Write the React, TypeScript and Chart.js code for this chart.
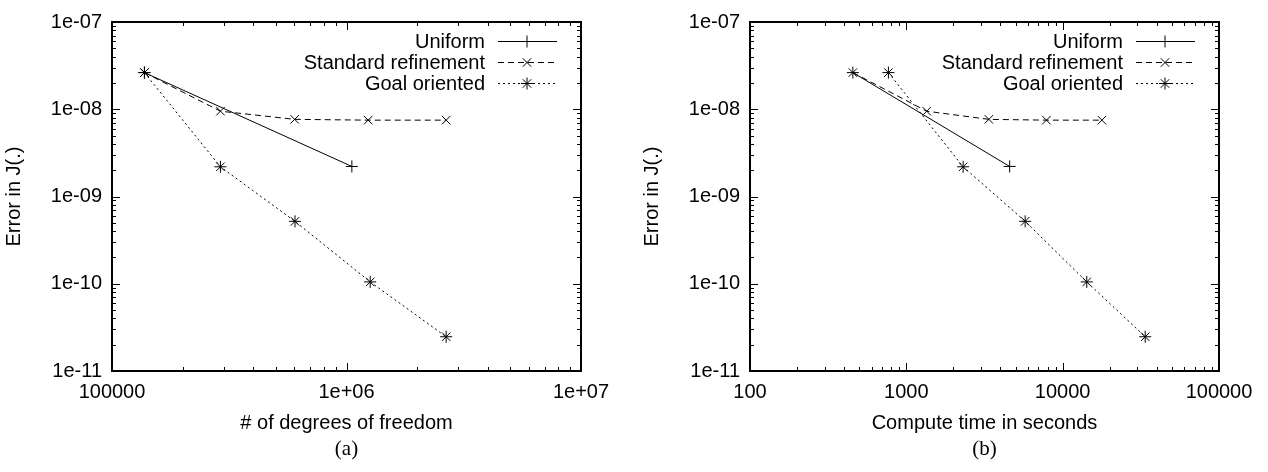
import React, { useEffect, useRef } from 'react';
import { Chart, registerables } from 'chart.js';
import { drawPoint } from 'chart.js/helpers';

Chart.register(...registerables);

// ---- data ----
const seriesNames = ['Uniform', 'Standard refinement', 'Goal oriented'];

const errUniform = [2.63e-8, 2.21e-9];
const errStandard = [2.63e-8, 9.5e-9, 7.66e-9, 7.5e-9, 7.5e-9];
const errGoal = [2.63e-8, 2.19e-9, 5.19e-10, 1.05e-10, 2.47e-11];

const dofUniform = [137500, 1054000];
const dofStandard = [137500, 290000, 601000, 1237000, 2660000];
const dofGoal = [137500, 290000, 603000, 1262000, 2660000];

const timeUniform = [455, 4580];
const timeStandard = [455, 1350, 3373, 7870, 17820];
const timeGoal = [768, 2309, 5755, 14260, 33740];

const yTickValues = [1e-11, 1e-10, 1e-9, 1e-8, 1e-7];
const yTickLabels = ['1e-11', '1e-10', '1e-09', '1e-08', '1e-07'];
const dofTickValues = [1e5, 1e6, 1e7];
const dofTickLabels = ['100000', '1e+06', '1e+07'];
const timeTickValues = [100, 1000, 10000, 100000];
const timeTickLabels = ['100', '1000', '10000', '100000'];

const yTitle = 'Error in J(.)';
const dofTitle = '# of degrees of freedom';
const timeTitle = 'Compute time in seconds';

// ---- layout constants ----
const CW = 630;
const CH = 440;
const FONT = "'Liberation Sans', Arial, Helvetica, sans-serif";

function logMinorValues(min: number, max: number): number[] {
  const out: number[] = [];
  for (let d = min; d < max * 0.999; d *= 10) {
    for (let k = 2; k <= 9; k++) out.push(k * d);
  }
  return out;
}

const gnuplotPlugin = {
  id: 'gnuplotFrame',
  afterDraw(chart: any) {
    const { ctx, chartArea } = chart;
    const { left, right, top, bottom } = chartArea;
    const xs = chart.scales.x;
    const ys = chart.scales.y;
    ctx.save();
    ctx.strokeStyle = '#000';
    ctx.lineWidth = 1;
    ctx.setLineDash([]);
    const MAJ = 8;
    const MIN = 4;
    const xMajor = xs.ticks.map((t: any) => t.value);
    const yMajor = ys.ticks.map((t: any) => t.value);
    const drawX = (v: number, len: number) => {
      const p = Math.round(xs.getPixelForValue(v)) + 0.5;
      ctx.beginPath();
      ctx.moveTo(p, bottom);
      ctx.lineTo(p, bottom - len);
      ctx.moveTo(p, top);
      ctx.lineTo(p, top + len);
      ctx.stroke();
    };
    const drawY = (v: number, len: number) => {
      const p = Math.round(ys.getPixelForValue(v)) + 0.5;
      ctx.beginPath();
      ctx.moveTo(left, p);
      ctx.lineTo(left + len, p);
      ctx.moveTo(right, p);
      ctx.lineTo(right - len, p);
      ctx.stroke();
    };
    xMajor.forEach((v: number) => drawX(v, MAJ));
    logMinorValues(xs.min, xs.max).forEach((v) => drawX(v, MIN));
    yMajor.forEach((v: number) => drawY(v, MAJ));
    logMinorValues(ys.min, ys.max).forEach((v) => drawY(v, MIN));

    // frame
    ctx.lineWidth = 2;
    ctx.strokeRect(left, top, right - left, bottom - top);

    // legend (gnuplot style: text right, sample on the right)
    ctx.font = `20px ${FONT}`;
    ctx.fillStyle = '#000';
    ctx.textAlign = 'right';
    ctx.textBaseline = 'middle';
    chart.data.datasets.forEach((ds: any, i: number) => {
      const y = Math.round(top + 18.5 + i * 21) + 0.5;
      ctx.fillText(ds.label, right - 96, y + 1);
      ctx.lineWidth = 1;
      ctx.setLineDash(ds.borderDash || []);
      ctx.beginPath();
      ctx.moveTo(right - 83, y);
      ctx.lineTo(right - 24, y);
      ctx.stroke();
      ctx.setLineDash([]);
      drawPoint(
        ctx,
        { pointStyle: ds.pointStyle, radius: ds.pointRadius, borderWidth: 1, rotation: 0 },
        right - 54,
        y
      );
    });
    ctx.restore();
  },
};

function makeConfig(
  xU: number[],
  xS: number[],
  xG: number[],
  xMin: number,
  xMax: number,
  xTickValues: number[],
  xTickLabels: string[],
  xTitle: string
): any {
  const mk = (xv: number[], yv: number[]) => xv.map((x, i) => ({ x, y: yv[i] }));
  const base = {
    borderColor: '#000',
    backgroundColor: '#000',
    pointBorderColor: '#000',
    pointBackgroundColor: '#000',
    borderWidth: 1,
    pointBorderWidth: 1,
    pointRadius: 6,
    showLine: true,
    tension: 0,
    fill: false,
  };
  return {
    type: 'scatter',
    data: {
      datasets: [
        { ...base, label: seriesNames[0], data: mk(xU, errUniform), pointStyle: 'cross', borderDash: [] },
        { ...base, label: seriesNames[1], data: mk(xS, errStandard), pointStyle: 'crossRot', borderDash: [6, 4] },
        { ...base, label: seriesNames[2], data: mk(xG, errGoal), pointStyle: 'star', borderDash: [2, 3] },
      ],
    },
    options: {
      animation: false,
      responsive: false,
      devicePixelRatio: 1,
      layout: { padding: { top: 15, right: CW - 581, left: 0, bottom: 0 } },
      plugins: { legend: { display: false }, tooltip: { enabled: false }, title: { display: false } },
      elements: { point: { hitRadius: 0 } },
      scales: {
        x: {
          type: 'logarithmic',
          position: 'bottom',
          min: xMin,
          max: xMax,
          grid: { display: false, drawTicks: false },
          border: { display: false },
          ticks: {
            autoSkip: false,
            maxRotation: 0,
            padding: 9,
            color: '#000',
            font: { family: FONT, size: 20 },
            callback: (_v: any, i: number) => xTickLabels[i],
          },
          afterBuildTicks: (s: any) => {
            s.ticks = xTickValues.map((v) => ({ value: v }));
          },
          afterFit: (s: any) => {
            s.height = CH - 371;
          },
          title: {
            display: true,
            text: xTitle,
            color: '#000',
            font: { family: FONT, size: 20 },
            padding: { top: 0, bottom: 5 },
          },
        },
        y: {
          type: 'logarithmic',
          position: 'left',
          min: 1e-11,
          max: 1e-7,
          grid: { display: false, drawTicks: false },
          border: { display: false },
          ticks: {
            autoSkip: false,
            padding: 10,
            color: '#000',
            font: { family: FONT, size: 20 },
            callback: (_v: any, i: number) => yTickLabels[i],
          },
          afterBuildTicks: (s: any) => {
            s.ticks = yTickValues.map((v) => ({ value: v }));
          },
          afterFit: (s: any) => {
            s.width = 112;
          },
          title: {
            display: true,
            text: yTitle,
            color: '#000',
            font: { family: FONT, size: 20 },
            padding: { top: 2, bottom: 0 },
          },
        },
      },
    },
    plugins: [gnuplotPlugin],
  };
}

export default function App() {
  const leftRef = useRef<HTMLCanvasElement>(null);
  const rightRef = useRef<HTMLCanvasElement>(null);

  useEffect(() => {
    const c1 = new Chart(
      leftRef.current as HTMLCanvasElement,
      makeConfig(dofUniform, dofStandard, dofGoal, 1e5, 1e7, dofTickValues, dofTickLabels, dofTitle)
    );
    const c2 = new Chart(
      rightRef.current as HTMLCanvasElement,
      makeConfig(timeUniform, timeStandard, timeGoal, 100, 100000, timeTickValues, timeTickLabels, timeTitle)
    );
    return () => {
      c1.destroy();
      c2.destroy();
    };
  }, []);

  const captionStyle = (cx: number): React.CSSProperties => ({
    position: 'absolute',
    left: cx - 50,
    top: 436,
    width: 100,
    textAlign: 'center',
    fontFamily: "'Liberation Serif', 'Times New Roman', serif",
    fontSize: 21,
    lineHeight: '24px',
    color: '#000',
  });

  return (
    <div
      style={{
        position: 'absolute',
        left: 0,
        top: 0,
        width: 1268,
        height: 472,
        background: '#fff',
        overflow: 'hidden',
      }}
    >
      <canvas ref={leftRef} width={CW} height={CH} style={{ position: 'absolute', left: 0, top: 0 }} />
      <canvas ref={rightRef} width={CW} height={CH} style={{ position: 'absolute', left: 638, top: 0 }} />
      <div style={captionStyle(346.5)}>(a)</div>
      <div style={captionStyle(638 + 346.5)}>(b)</div>
    </div>
  );
}
